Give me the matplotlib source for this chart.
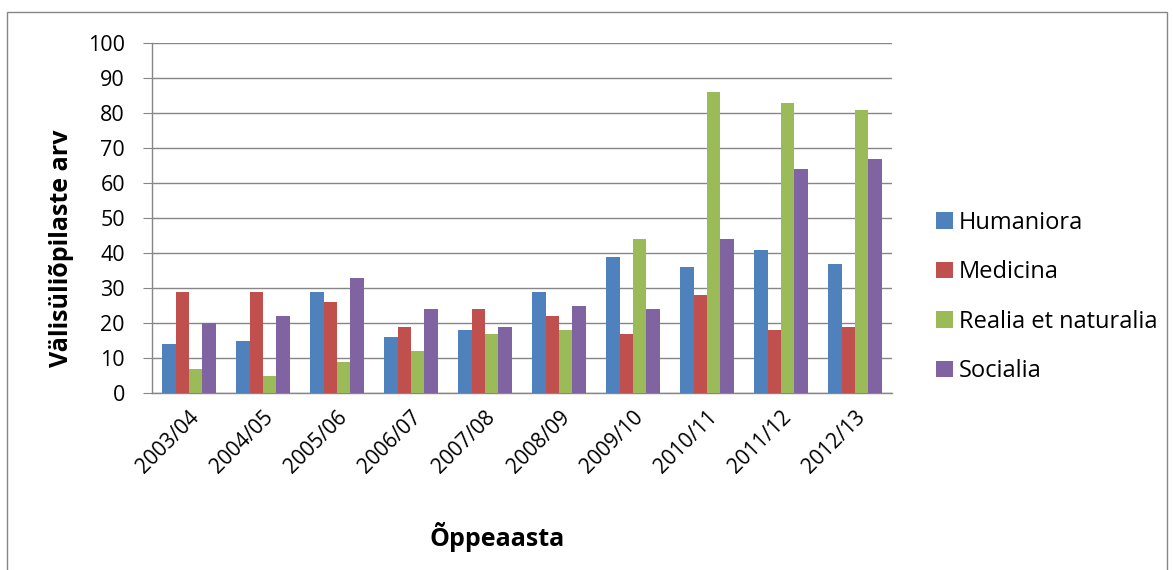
import numpy as np
import matplotlib
matplotlib.use("Agg")
import matplotlib.pyplot as plt
from matplotlib.patches import Rectangle

plt.rcParams['font.family'] = ['Open Sans', 'DejaVu Sans']

# andmed
years = ['2003/04', '2004/05', '2005/06', '2006/07', '2007/08',
         '2008/09', '2009/10', '2010/11', '2011/12', '2012/13']
humaniora = [14, 15, 29, 16, 18, 29, 39, 36, 41, 37]
medicina = [29, 29, 26, 19, 24, 22, 17, 28, 18, 19]
realia = [7, 5, 9, 12, 17, 18, 44, 86, 83, 81]
socialia = [20, 22, 33, 24, 19, 25, 24, 44, 64, 67]

series = [
    ('Humaniora', humaniora, '#4F81BD'),
    ('Medicina', medicina, '#C0504D'),
    ('Realia et naturalia', realia, '#9BBB59'),
    ('Socialia', socialia, '#8064A2'),
]

fig = plt.figure(figsize=(11.73, 5.70), dpi=100)
ax = fig.add_axes([152 / 1173, 1 - 393 / 570, 740 / 1173, 350 / 570])

x = np.arange(len(years))
w = 0.18
for i, (name, vals, col) in enumerate(series):
    ax.bar(x + (i - 1.5) * w, vals, w, color=col, label=name, zorder=3)

ax.set_xlim(-0.5, len(years) - 0.5)
ax.set_ylim(0, 100)
ax.set_yticks(range(0, 101, 10))
ax.set_xticks(x)
ax.set_xticklabels(years, rotation=45, ha='right', rotation_mode='anchor', fontsize=15)
ax.tick_params(axis='y', labelsize=15.5, length=6.5, color='#868686', pad=13)
ax.tick_params(axis='x', length=0, pad=10)
ax.grid(axis='y', color='#868686', linewidth=1, zorder=0)

for s in ['top', 'right']:
    ax.spines[s].set_visible(False)
for s in ['left', 'bottom']:
    ax.spines[s].set_color('#868686')
    ax.spines[s].set_linewidth(1)

fig.text(62 / 1173, 1 - 248 / 570, 'Välisüliõpilaste arv', fontsize=18, fontweight='bold',
         rotation=90, ha='center', va='center')
fig.text(497 / 1173, 1 - 537 / 570, 'Õppeaasta', fontsize=18, fontweight='bold',
         ha='center', va='center')

leg = fig.legend(loc='center left', bbox_to_anchor=(924 / 1173, 1 - 297 / 570),
                 frameon=False, fontsize=17, handlelength=0.72, handleheight=0.72,
                 handletextpad=0.25, labelspacing=1.08, borderpad=0)

# raam ümber joonise
fig.patches.append(Rectangle((7 / 1173, -0.01), 1160 / 1173, 1 - 12 / 570 + 0.01,
                             transform=fig.transFigure, fill=False,
                             edgecolor='#868686', linewidth=1))

plt.savefig('out.png', dpi=100)
